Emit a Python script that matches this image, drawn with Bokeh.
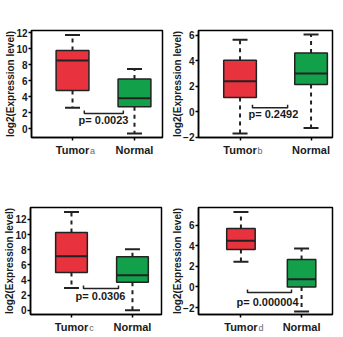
from bokeh.plotting import figure
from bokeh.layouts import column, row
from bokeh.models import FixedTicker, Title, LinearAxis
from bokeh.embed import file_html
from bokeh.resources import INLINE
from bokeh.core.properties import value

# ---- data (five-number summaries) ----
groups = ["Tumor", "Normal"]
letters = ["a", "b", "c", "d"]
# [low whisker, Q1, median, Q3, high whisker]
tumor_a = [2.6, 4.75, 8.5, 9.75, 11.7]
normal_a = [-0.6, 2.75, 3.8, 6.2, 7.45]
tumor_b = [-1.72, 1.1, 2.39, 4.02, 5.64]
normal_b = [-1.29, 2.13, 2.98, 4.6, 6.05]
tumor_c = [2.98, 5.0, 7.16, 10.28, 13.0]
normal_c = [0.04, 3.73, 4.65, 7.07, 8.08]
tumor_d = [2.44, 3.64, 4.48, 5.68, 7.29]
normal_d = [-2.39, 0.0, 0.75, 2.66, 3.74]
p_values = ["p= 0.0023", "p= 0.2492", "p= 0.0306", "p= 0.000004"]
yticks_a = [0, 2, 4, 6, 8, 10, 12]
yticks_b = [-2, 0, 2, 4, 6]
yticks_c = [0, 2, 4, 6, 8, 10, 12]
yticks_d = [-2, 0, 2, 4, 6]
y_title = "log2(Expression level)"

RED = "#E8323E"
GREEN = "#12A04B"
FONT = "Liberation Sans"
TXT = "#1a1a1a"

panels = [
    dict(t=tumor_a, n=normal_a, p=p_values[0], yt=yticks_a, letter=letters[0],
         xr=(0.338, 2.452), yr=(-1.1, 12.25), bw=0.53,
         br=(1.19, 1.82, 1.9), tx=(1.50, 1.1),
         w=170, h=170, ml=31, mr=8, mt=30, mb=33),
    dict(t=tumor_b, n=normal_b, p=p_values[1], yt=yticks_b, letter=letters[1],
         xr=(0.415, 2.302), yr=(-2.03, 6.36), bw=0.46,
         br=(1.175, 1.67, 0.31), tx=(1.47, -0.22),
         w=173, h=170, ml=28, mr=11, mt=29, mb=33),
    dict(t=tumor_c, n=normal_c, p=p_values[2], yt=yticks_c, letter=letters[2],
         xr=(0.328, 2.476), yr=(-0.53, 13.58), bw=0.52,
         br=(1.197, 1.771, 2.9), tx=(1.476, 1.92),
         w=170, h=167, ml=30, mr=9, mt=37, mb=23),
    dict(t=tumor_d, n=normal_d, p=p_values[3], yt=yticks_d, letter=letters[3],
         xr=(0.30, 2.51), yr=(-2.68, 7.72), bw=0.47,
         br=(1.108, 1.834, -0.54), tx=(1.438, -1.42),
         w=173, h=167, ml=28, mr=11, mt=37, mb=23),
]


def make_panel(cfg):
    p = figure(width=cfg["w"], height=cfg["h"],
               min_border_left=cfg["ml"], min_border_right=cfg["mr"],
               min_border_top=cfg["mt"], min_border_bottom=cfg["mb"],
               x_range=cfg["xr"], y_range=cfg["yr"],
               output_backend="svg", toolbar_location=None)
    p.grid.visible = False
    p.outline_line_color = "black"
    p.outline_line_width = 1.5
    p.background_fill_color = "white"
    p.border_fill_color = "white"

    fw = cfg["w"] - cfg["ml"] - cfg["mr"]
    fh = cfg["h"] - cfg["mt"] - cfg["mb"]
    x0, x1r = cfg["xr"]
    y0, y1r = cfg["yr"]
    dx = (x1r - x0) / fw   # data units per pixel
    dy = (y1r - y0) / fh

    xs = [1, 2]
    stats = [cfg["t"], cfg["n"]]
    colors = [RED, GREEN]
    bw = cfg["bw"]
    cw = 15 * dx
    for x, s, c in zip(xs, stats, colors):
        lo, q1, med, q3, hi = s
        p.segment(x0=[x, x], y0=[q3, q1], x1=[x, x], y1=[hi, lo],
                  line_color="#222222", line_width=2, line_dash="4 4")
        p.segment(x0=[x - cw / 2, x - cw / 2], y0=[hi, lo],
                  x1=[x + cw / 2, x + cw / 2], y1=[hi, lo],
                  line_color="#222222", line_width=2)
        p.quad(left=[x - bw / 2], right=[x + bw / 2], bottom=[q1], top=[q3],
               fill_color=c, line_color="#222222", line_width=1.5)
        p.segment(x0=[x - bw / 2], y0=[med], x1=[x + bw / 2], y1=[med],
                  line_color="#222222", line_width=2)

    # significance bracket
    bx1, bx2, yb = cfg["br"]
    hb = 3.0 * dy
    p.line(x=[bx1, bx1, bx2, bx2], y=[yb + hb, yb, yb, yb + hb],
           line_color="#222222", line_width=1.5)
    tx, ty = cfg["tx"]
    p.text(x=[tx], y=[ty], text=[cfg["p"]], text_font=value(FONT),
           text_font_style="bold", text_font_size="11px", text_color=TXT,
           text_align="center", text_baseline="middle")

    # axes
    p.xaxis.ticker = FixedTicker(ticks=xs)
    p.xaxis.major_label_overrides = {1: groups[0], 2: groups[1]}
    p.yaxis.ticker = FixedTicker(ticks=cfg["yt"])
    for ax in (p.xaxis[0], p.yaxis[0]):
        ax.axis_line_color = "black"
        ax.axis_line_width = 1.5
        ax.major_tick_line_color = "black"
        ax.major_tick_line_width = 1.5
        ax.major_tick_in = 0
        ax.major_tick_out = 3
        ax.minor_tick_line_color = None
        ax.major_label_text_font = FONT
        ax.major_label_text_font_style = "bold"
        ax.major_label_text_color = TXT
    p.xaxis.major_label_text_font_size = "11px"
    p.xaxis.major_label_standoff = 3
    p.yaxis.major_label_text_font_size = "10px"
    p.yaxis.major_label_standoff = 1

    # y-axis title in the left border
    p.add_layout(Title(text=y_title, align="center", text_font=FONT,
                       text_font_style="bold", text_font_size="10px",
                       text_color=TXT, standoff=-4, offset=0), "left")

    # small letter after "Tumor": a second, line-less x axis pulled up
    lx = 1 + 20.0 * dx
    letter_axis = LinearAxis(ticker=FixedTicker(ticks=[lx]),
                             major_label_overrides={lx: cfg["letter"]},
                             axis_line_color=None, major_tick_line_color=None,
                             minor_tick_line_color=None, major_tick_out=0,
                             major_tick_in=0, major_label_standoff=-13,
                             major_label_text_font=FONT,
                             major_label_text_font_size="9px",
                             major_label_text_color="#666666")
    p.add_layout(letter_axis, "below")
    return p


figs = [make_panel(c) for c in panels]
layout = column(row(figs[0], figs[1], spacing=0),
                row(figs[2], figs[3], spacing=0), spacing=0)
open("out.html", "w").write(file_html(layout, INLINE))
